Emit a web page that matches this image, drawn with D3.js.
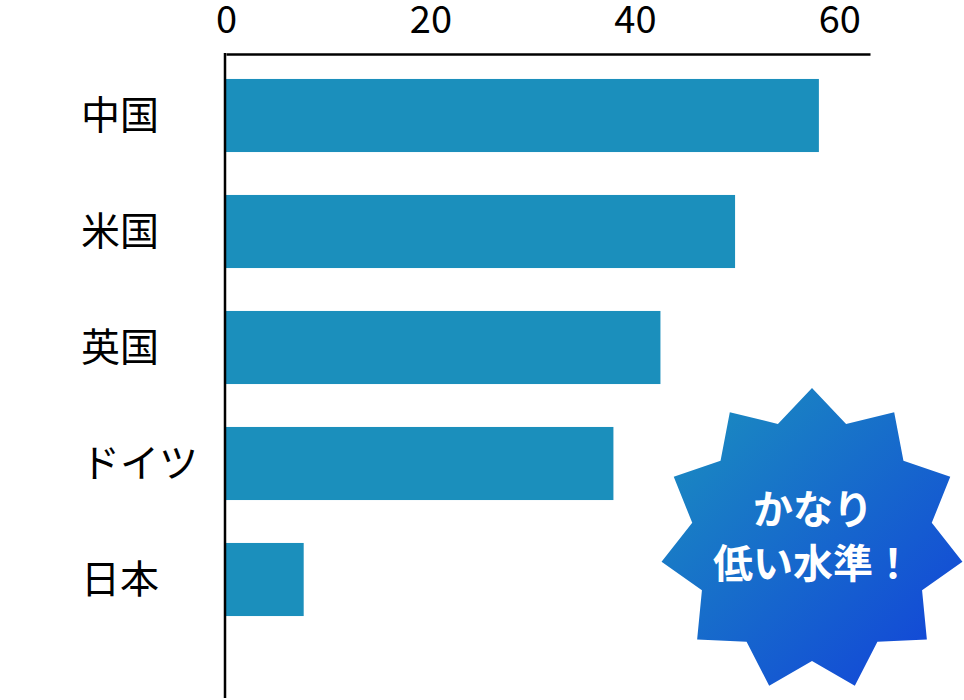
<!DOCTYPE html>
<html>
<head>
<meta charset="utf-8">
<script src="https://cdn.jsdelivr.net/npm/d3@7"></script>
<style>
  body { margin: 0; background: #fff; }
  text { font-family: "Noto Sans CJK JP", "Noto Sans", sans-serif; }
</style>
</head>
<body>
<div id="chart"></div>
<script>
// data
var countries = ["中国", "米国", "英国", "ドイツ", "日本"];
var values = [58, 49.8, 42.5, 37.9, 7.6];
var tickValues = [0, 20, 40, 60];
var badgeLines = ["かなり", "低い水準！"];

window.onload = function () {
    var width = 964, height = 700;

    var svg = d3.select("#chart").append("svg")
        .attr("width", width).attr("height", height);

    // scales
    var x = d3.scaleLinear().domain([0, 63]).range([226, 870]);
    var y = d3.scaleBand().domain(countries).range([57.5, 637.5])
        .paddingInner(0.37).paddingOuter(0.185);

    //Draw the bars.
    svg.selectAll("rect.bar").data(values).enter()
        .append("rect").attr("class", "bar")
        .attr("fill", "#1b8fbc")
        .attr("x", x(0))
        .attr("y", function (d, i) { return y(countries[i]); })
        .attr("width", function (d) { return x(d) - x(0); })
        .attr("height", y.bandwidth());

    // top axis
    var xAxis = d3.axisTop(x).tickValues(tickValues).tickSize(0).tickPadding(21);
    var gx = svg.append("g").attr("transform", "translate(0,54)").call(xAxis);
    gx.select(".domain").attr("stroke", "#000").attr("stroke-width", 2.5);
    gx.selectAll("text").attr("font-size", 38).attr("fill", "#000")
        .style("font-family", '"Noto Sans CJK JP", sans-serif');

    // vertical axis line
    svg.append("line")
        .attr("x1", x(0) - 1).attr("x2", x(0) - 1)
        .attr("y1", 53).attr("y2", 698)
        .attr("stroke", "#000").attr("stroke-width", 2.5);

    // category labels
    svg.selectAll("text.cat").data(countries).enter()
        .append("text").attr("class", "cat")
        .attr("x", 81)
        .attr("y", function (d) { return y(d) + y.bandwidth() / 2; })
        .attr("dy", "0.35em")
        .attr("font-size", 39)
        .attr("fill", "#000")
        .text(function (d) { return d; });

    // starburst badge
    var defs = svg.append("defs");
    var grad = defs.append("linearGradient").attr("id", "burst")
        .attr("x1", "0").attr("y1", "0").attr("x2", "1").attr("y2", "1");
    grad.append("stop").attr("offset", "0%").attr("stop-color", "#1b92be");
    grad.append("stop").attr("offset", "100%").attr("stop-color", "#1240da");

    var cx = 812, cy = 540, rOuter = 152, rInner = 121, nPoints = 11;
    var pts = [];
    for (var i = 0; i < nPoints * 2; i++) {
        var a = -Math.PI / 2 + i * Math.PI / nPoints;
        var r = i % 2 === 0 ? rOuter : rInner;
        pts.push([cx + r * Math.cos(a), cy + r * Math.sin(a)]);
    }
    svg.append("path")
        .attr("d", d3.line()(pts) + "Z")
        .attr("fill", "url(#burst)");

    svg.selectAll("text.badge").data(badgeLines).enter()
        .append("text").attr("class", "badge")
        .attr("x", cx + 1)
        .attr("y", function (d, i) { return 524 + i * 54; })
        .attr("text-anchor", "middle")
        .attr("font-size", 40)
        .attr("font-weight", "bold")
        .attr("fill", "#fff")
        .text(function (d) { return d; });
};
</script>
</body>
</html>
